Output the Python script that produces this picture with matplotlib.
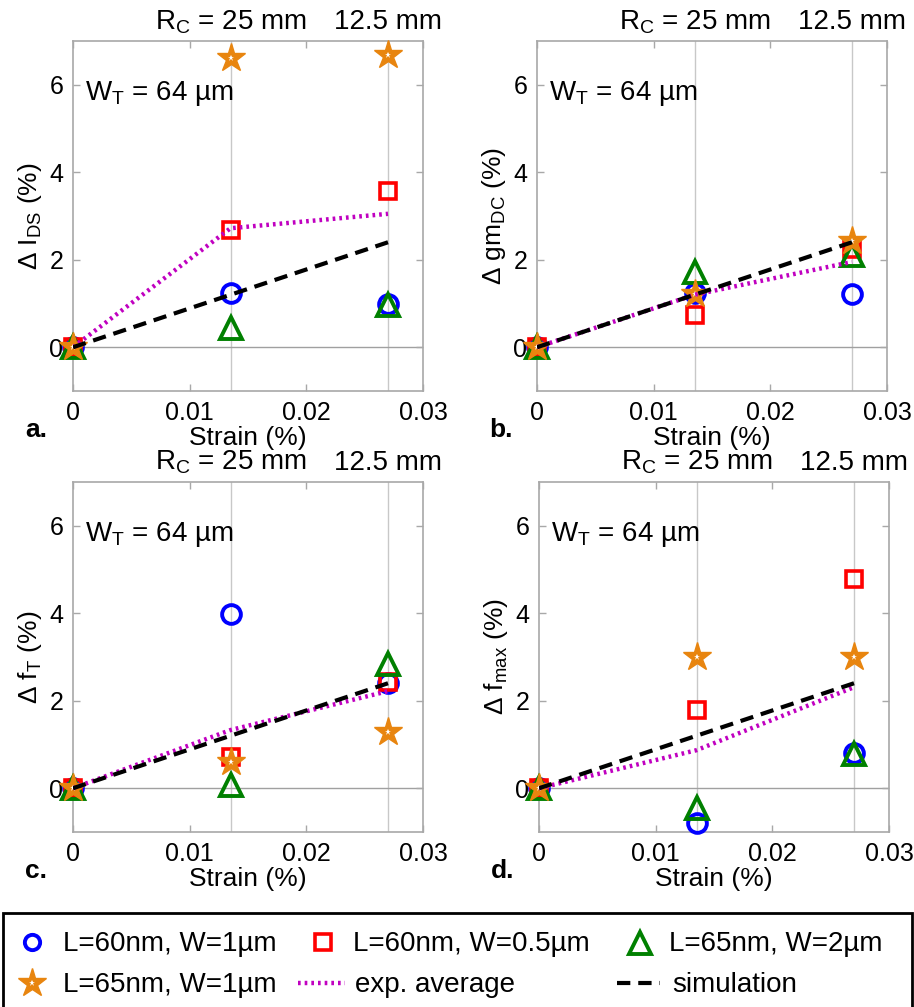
import matplotlib
matplotlib.use("Agg")
import matplotlib.pyplot as plt
from matplotlib.patches import Rectangle
from matplotlib.lines import Line2D

plt.rcParams['font.family'] = ['Liberation Sans', 'DejaVu Sans']
plt.rcParams['mathtext.default'] = 'regular'

# ---------------- data ----------------
strain = [0.0, 0.0135, 0.027]

ids_circle = [0.0, 1.23, 1.0]
ids_square = [0.0, 2.69, 3.58]
ids_tri = [0.0, 0.45, 0.97]
ids_star = [0.0, 6.62, 6.69]
ids_avg = [0.0, 2.72, 3.05]
ids_sim = [0.0, 1.2, 2.4]

gm_circle = [0.0, 1.23, 1.21]
gm_square = [0.0, 0.73, 2.25]
gm_tri = [0.0, 1.72, 2.1]
gm_star = [0.0, 1.22, 2.43]
gm_avg = [0.0, 1.2, 1.95]
gm_sim = [0.0, 1.2, 2.4]

ft_circle = [0.0, 3.99, 2.41]
ft_square = [0.0, 0.72, 2.42]
ft_tri = [0.0, 0.08, 2.85]
ft_star = [0.0, 0.6, 1.29]
ft_avg = [0.0, 1.33, 2.22]
ft_sim = [0.0, 1.2, 2.4]

fm_circle = [0.0, -0.8, 0.8]
fm_square = [0.0, 1.8, 4.78]
fm_tri = [0.0, -0.45, 0.78]
fm_star = [0.0, 3.01, 3.0]
fm_avg = [0.0, 0.87, 2.31]
fm_sim = [0.0, 1.2, 2.4]

panel_labels = ['a.', 'b.', 'c.', 'd.']
ylabels = [r'$\Delta$ I$_{DS}$ (%)', r'$\Delta$ gm$_{DC}$ (%)',
           r'$\Delta$ f$_{T}$ (%)', r'$\Delta$ f$_{max}$ (%)']
legend_labels = ['L=60nm, W=1µm', 'L=60nm, W=0.5µm', 'L=65nm, W=2µm',
                 'L=65nm, W=1µm', 'exp. average', 'simulation']

panels = [
    (ids_circle, ids_square, ids_tri, ids_star, ids_avg, ids_sim),
    (gm_circle, gm_square, gm_tri, gm_star, gm_avg, gm_sim),
    (ft_circle, ft_square, ft_tri, ft_star, ft_avg, ft_sim),
    (fm_circle, fm_square, fm_tri, fm_star, fm_avg, fm_sim),
]

# ---------------- style ----------------
W, H = 914, 1007
BLUE = '#0000FF'
RED = '#FF0000'
GREEN = '#008000'
ORANGE = '#E8850F'
MAG = '#C000C0'
GRAY = '#A8A8A8'

circle_kw = dict(ls='none', marker='o', ms=13.5, mfc='none', mec=BLUE, mew=2.8)
square_kw = dict(ls='none', marker='s', ms=11, mfc='none', mec=RED, mew=2.6)
tri_kw = dict(ls='none', marker='^', ms=16, mfc='none', mec=GREEN, mew=2.8)
star_kw = dict(ls='none', marker='*', ms=21, mfc=ORANGE, mec=ORANGE, mew=1)
star_in_kw = dict(ls='none', marker='*', ms=5, mfc='white', mec='white', mew=0)
avg_kw = dict(color=MAG, ls=(0, (0.6, 0.9)), lw=3.2, dash_capstyle='butt')
sim_kw = dict(color='black', ls=(0, (3.2, 1.9)), lw=3.0)

fig = plt.figure(figsize=(W / 100, H / 100), dpi=100)

# axes positions in pixels: left, top
pos = [(73, 41), (537, 41), (73, 482), (539, 482)]
AW, AH = 350, 350

for i, (data, (lp, tp)) in enumerate(zip(panels, pos)):
    c, s, t, st, avg, sim = data
    ax = fig.add_axes([lp / W, (H - tp - AH) / H, AW / W, AH / H])
    ax.set_xlim(0, 0.03)
    ax.set_ylim(-1, 7)
    ax.set_xticks([0, 0.01, 0.02, 0.03])
    ax.set_xticklabels(['0', '0.01', '0.02', '0.03'])
    ax.set_yticks([0, 2, 4, 6])
    ax.tick_params(direction='in', length=5, width=1, color=GRAY,
                   labelsize=18, top=True, right=True, pad=7)
    for sp in ax.spines.values():
        sp.set_color(GRAY)
        sp.set_linewidth(1.2)
    # reference lines
    for xv in strain[1:]:
        ax.axvline(xv, color='#C8C8C8', lw=1.0, zorder=1)
    ax.axhline(0, color='#A0A0A0', lw=1.0, zorder=1)

    ax.plot(strain, c, zorder=3, clip_on=False, **circle_kw)
    ax.plot(strain, s, zorder=3.1, clip_on=False, **square_kw)
    ax.plot(strain, t, zorder=3.2, clip_on=False, **tri_kw)
    ax.plot(strain, st, zorder=3.3, clip_on=False, **star_kw)
    ax.plot(strain, st, zorder=3.4, clip_on=False, **star_in_kw)
    ax.plot(strain, avg, zorder=3.5, **avg_kw)
    ax.plot(strain, sim, zorder=3.6, **sim_kw)

    ax.set_xlabel('Strain (%)', fontsize=19, labelpad=1)
    ax.set_ylabel(ylabels[i], fontsize=19, labelpad=4)

    # top radius annotation
    ax.text(strain[1], 1.0 + 12 / AH, r'R$_C$ = 25 mm', transform=ax.get_xaxis_transform(),
            ha='center', va='baseline', fontsize=20)
    ax.text(strain[2], 1.0 + 12 / AH, '12.5 mm', transform=ax.get_xaxis_transform(),
            ha='center', va='baseline', fontsize=20)
    ax.text(12 / AW, (AH - 59) / AH, r'W$_T$ = 64 µm', transform=ax.transAxes,
            ha='left', va='baseline', fontsize=20)

    # panel letter
    fig.text((lp - 48) / W, (H - (tp + AH + 46)) / H, panel_labels[i],
             fontsize=19, fontweight='bold', ha='left', va='baseline')

# ---------------- legend (placed by hand, pixel layout) ----------------
def fx(px):
    return px / W


def fy(py):
    return (H - py) / H


box = Rectangle((fx(3), fy(1015)), fx(909), (1015 - 913) / H, transform=fig.transFigure,
                fill=False, edgecolor='black', lw=2, clip_on=False)
fig.patches.append(box)

row1, row2 = 942, 983
leg_marker = dict(circle_kw)
leg_marker['ms'] = 11
fig.add_artist(Line2D([fx(32)], [fy(row1)], transform=fig.transFigure, **leg_marker))
fig.add_artist(Line2D([fx(323)], [fy(row1)], transform=fig.transFigure, **square_kw))
fig.add_artist(Line2D([fx(640)], [fy(row1 + 1)], transform=fig.transFigure, **tri_kw))
fig.add_artist(Line2D([fx(32)], [fy(row2)], transform=fig.transFigure, **star_kw))
fig.add_artist(Line2D([fx(32)], [fy(row2)], transform=fig.transFigure, **star_in_kw))
fig.add_artist(Line2D([fx(298), fx(345)], [fy(row2), fy(row2)], transform=fig.transFigure, **avg_kw))
fig.add_artist(Line2D([fx(617), fx(660)], [fy(row2), fy(row2)], transform=fig.transFigure, **sim_kw))

text_pos = [(63, row1), (353, row1), (669, row1), (63, row2), (355, row2), (672, row2)]
for lab, (tx, ty) in zip(legend_labels, text_pos):
    fig.text(fx(tx), fy(ty + 9), lab, fontsize=20, ha='left', va='baseline')

fig.savefig('out.png', dpi=100)
